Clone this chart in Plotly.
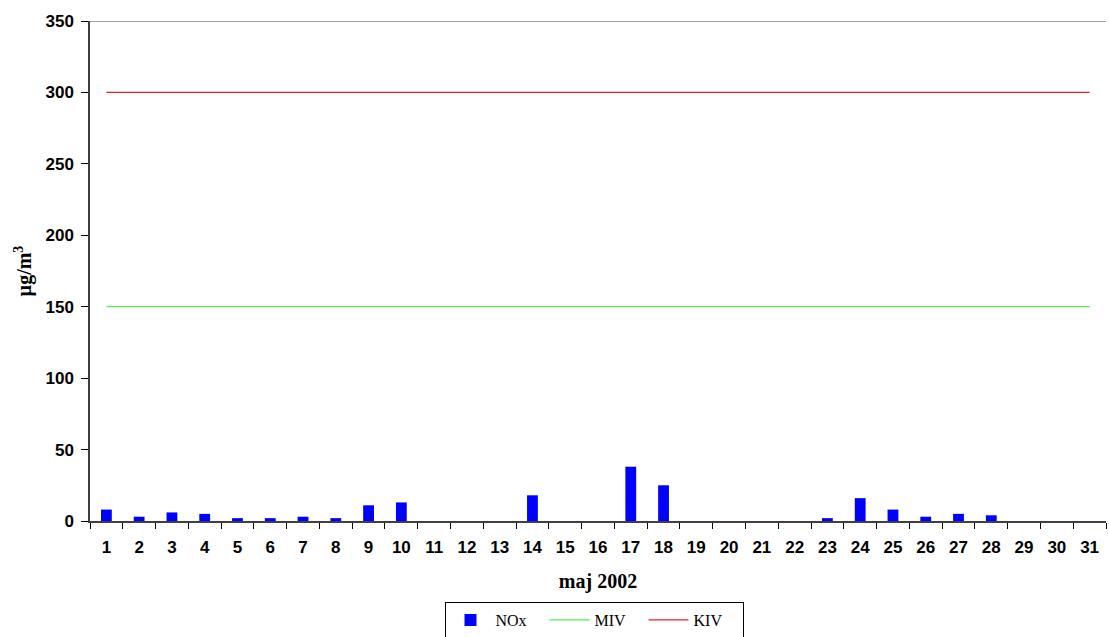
import plotly.graph_objects as go

days = [str(d) for d in range(1, 32)]
nox = [8, 3, 6, 5, 2, 2, 3, 2, 11, 13, 0, 0, 0, 18, 0, 0, 38, 25, 0, 0, 0, 0, 2, 16, 8, 3, 5, 4, 0, 0, 0]
miv = [150] * 31
kiv = [300] * 31
y_ticks = [0, 50, 100, 150, 200, 250, 300, 350]

fig = go.Figure()
fig.add_trace(go.Bar(x=days, y=nox, name="NOx", marker=dict(color="#0000ff", line=dict(width=0)), width=0.33))
fig.add_trace(go.Scatter(x=days, y=miv, name="MIV", mode="lines", line=dict(color="#55ee55", width=1.2)))
fig.add_trace(go.Scatter(x=days, y=kiv, name="KIV", mode="lines", line=dict(color="#e82020", width=1.2)))

fig.update_layout(
    width=1109, height=637,
    margin=dict(l=90, r=3, t=21, b=116),
    plot_bgcolor="white", paper_bgcolor="white",
    showlegend=True,
    legend=dict(orientation="h", x=594 / 1109, xanchor="center", xref="container",
                y=(637 - 602) / 637, yanchor="top", yref="container",
                bordercolor="black", borderwidth=1,
                font=dict(family="Liberation Serif", size=16, color="black"),
                itemwidth=40, tracegroupgap=0, entrywidth=44, entrywidthmode="pixels"),
    xaxis=dict(type="category", tickson="boundaries", ticks="outside", ticklen=6, automargin=False,
               tickcolor="black", showline=True, linecolor="#404040", linewidth=1.5,
               ticklabelstandoff=10,
               tickfont=dict(family="Liberation Sans", size=17, color="black", weight="bold"),
               title=dict(text="<b>maj 2002</b>", font=dict(family="Liberation Serif", size=20, color="black"), standoff=18),
               showgrid=False),
    yaxis=dict(range=[0, 350], tickvals=y_ticks, ticks="outside", ticklen=7, tickcolor="black", automargin=False,
               showline=True, linecolor="#404040", linewidth=1.5, showgrid=False, zeroline=False,
               ticklabelstandoff=4,
               tickfont=dict(family="Liberation Sans", size=17, color="black", weight="bold"),
               title=dict(text="<b>µg/m<sup>3</sup></b>", font=dict(family="Liberation Serif", size=20, color="black"), standoff=8)),
    shapes=[dict(type="line", xref="paper", yref="y", x0=0, x1=1, y0=350, y1=350,
                 line=dict(color="#808080", width=1.5))],
)

fig.write_html("out.html", config={"displayModeBar": False},
               post_script="document.body.style.margin='0';document.body.style.overflow='hidden';")
